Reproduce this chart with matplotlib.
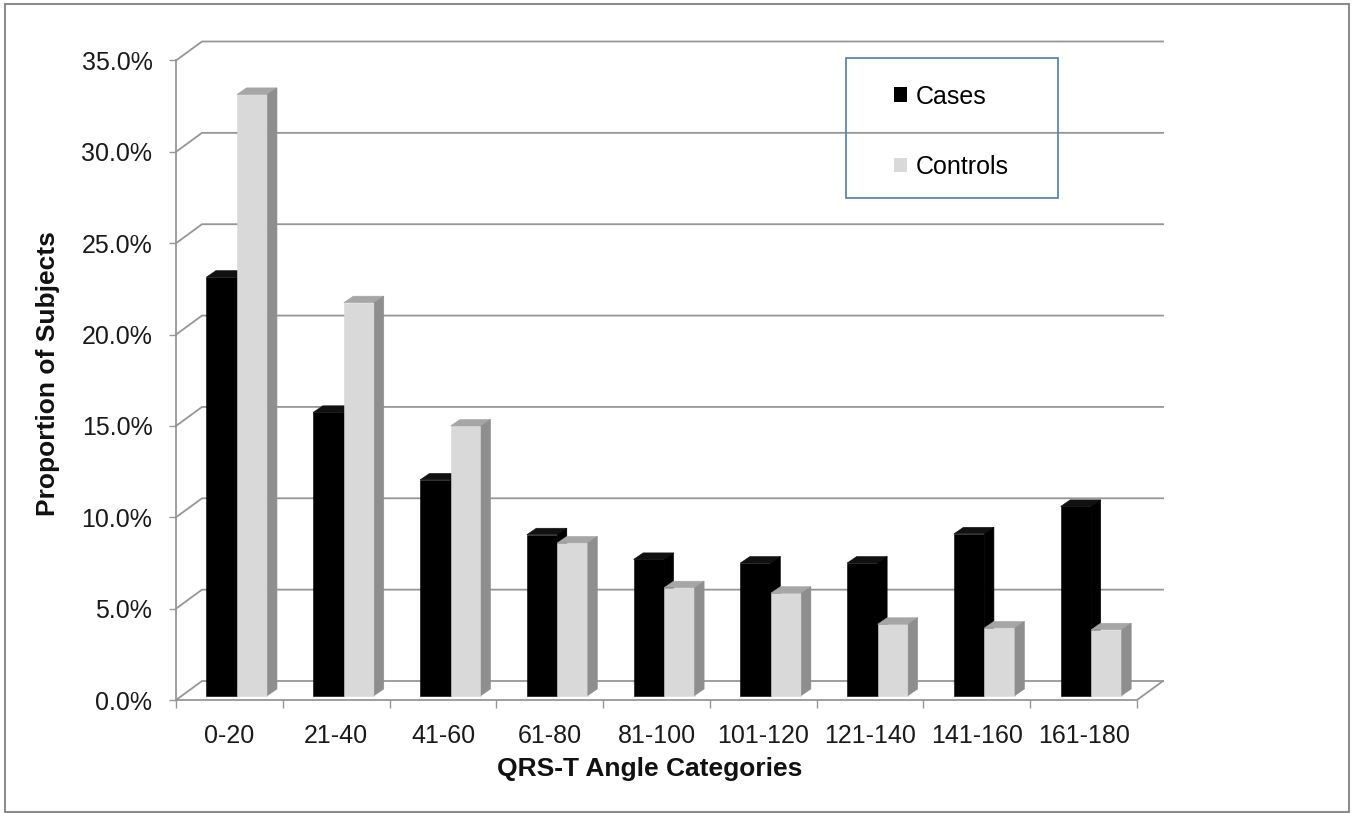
import matplotlib
matplotlib.use("Agg")
import matplotlib.pyplot as plt
from matplotlib.patches import Polygon, Rectangle, Patch

# ---------------- data ----------------
categories = ["0-20", "21-40", "41-60", "61-80", "81-100",
              "101-120", "121-140", "141-160", "161-180"]
cases = [22.9, 15.5, 11.8, 8.8, 7.45, 7.25, 7.25, 8.85, 10.35]
controls = [32.9, 21.5, 14.75, 8.35, 5.9, 5.6, 3.9, 3.7, 3.6]
yticks = [0, 5, 10, 15, 20, 25, 30, 35]
series_names = ["Cases", "Controls"]
x_label = "QRS-T Angle Categories"
y_label = "Proportion of Subjects"

# ---------------- style ----------------
W, H, DPI = 1355, 813, 100
plt.rcParams['font.family'] = ['Liberation Sans', 'DejaVu Sans']

def fx(px):
    return px / W

def fy(py):
    return 1 - py / H

fig = plt.figure(figsize=(W / DPI, H / DPI), dpi=DPI)
fig.patch.set_facecolor('white')

AX_L, AX_R, AX_B, AX_T = 176, 1137, 700, 60.5
ax = fig.add_axes([fx(AX_L), fy(AX_B), (AX_R - AX_L) / W, (AX_B - AX_T) / H])
n = len(categories)
ax.set_xlim(-0.5, n - 0.5)
ax.set_ylim(0, 35)
for s in ax.spines.values():
    s.set_visible(False)
ax.patch.set_alpha(0)

pxx = (AX_R - AX_L) / n          # px per x unit
pxy = (AX_B - AX_T) / 35.0       # px per y unit

WALL_DX = 26 / pxx
WALL_DY = 19 / pxy
BAR_W = 30.5 / pxx
BAR_SHIFT_X = 7.6 / pxx
BAR_SHIFT_Y = 4.5 / pxy
BAR_DX = 9.5 / pxx
BAR_DY = 6.5 / pxy

GRID_C = '#969696'
GRID_LW = 1.3

# back wall gridlines with diagonal connectors
x0w, x1w = -0.5, n - 0.5
for v in yticks:
    ax.plot([x0w, x0w + WALL_DX, x1w + WALL_DX], [v, v + WALL_DY, v + WALL_DY],
            color=GRID_C, lw=GRID_LW, clip_on=False, zorder=1,
            solid_joinstyle='miter')
# front vertical axis
ax.plot([x0w, x0w], [0, 35], color=GRID_C, lw=GRID_LW, clip_on=False, zorder=1)
# floor front edge and right diagonal
ax.plot([x0w, x1w, x1w + WALL_DX], [0, 0, WALL_DY], color=GRID_C, lw=GRID_LW,
        clip_on=False, zorder=1, solid_joinstyle='miter')

# ---------------- bars ----------------
face_cols = [
    ('#000000', '#111111', '#000000'),   # cases: front, top, side
    ('#d9d9d9', '#a6a6a6', '#8e8e8e'),   # controls
]
for j, vals in enumerate([cases, controls]):
    front, topc, side = face_cols[j]
    z = 3 + j
    lefts = [i + BAR_SHIFT_X - BAR_W + j * BAR_W for i in range(n)]
    ax.bar(lefts, vals, width=BAR_W, bottom=BAR_SHIFT_Y, align='edge',
           color=front, edgecolor=front, linewidth=0.4, zorder=z, clip_on=False)
    for x0, v in zip(lefts, vals):
        y0 = BAR_SHIFT_Y
        top = v + BAR_SHIFT_Y
        ax.add_patch(Polygon([(x0, top), (x0 + BAR_W, top),
                              (x0 + BAR_W + BAR_DX, top + BAR_DY),
                              (x0 + BAR_DX, top + BAR_DY)], closed=True,
                             facecolor=topc, edgecolor=topc, lw=0.4,
                             zorder=z, clip_on=False))
        ax.add_patch(Polygon([(x0 + BAR_W, y0), (x0 + BAR_W + BAR_DX, y0 + BAR_DY),
                              (x0 + BAR_W + BAR_DX, top + BAR_DY),
                              (x0 + BAR_W, top)], closed=True,
                             facecolor=side, edgecolor=side, lw=0.4,
                             zorder=z, clip_on=False))

# ---------------- ticks ----------------
TICK_FS = 18
ax.set_yticks(yticks)
ax.set_yticklabels([f"{v:.1f}%" for v in yticks], fontsize=TICK_FS, color='#1a1a1a')
ax.tick_params(axis='y', length=5, width=1, color=GRID_C, pad=12)

ax.set_xticks([i - 0.5 for i in range(n + 1)])
ax.set_xticklabels([])
ax.tick_params(axis='x', which='major', length=6, width=1, color=GRID_C, direction='out')
ax.set_xticks(list(range(n)), minor=True)
ax.set_xticklabels(categories, minor=True, fontsize=TICK_FS, color='#1a1a1a')
ax.tick_params(axis='x', which='minor', length=0, pad=17)

# axis titles
fig.text(fx(650), fy(769), x_label, ha='center', va='center',
         fontsize=19, fontweight='bold', color='#111111')
fig.text(fx(48), fy(374), y_label, ha='center', va='center', rotation=90,
         fontsize=19, fontweight='bold', color='#111111')

# ---------------- legend ----------------
fig.patches.append(Rectangle((fx(846), fy(198)), (1058 - 846) / W, (198 - 58) / H,
                             transform=fig.transFigure, fill=False,
                             edgecolor='#4a7ebb', lw=1.2, zorder=5))
handles = [Patch(facecolor=face_cols[0][0], edgecolor='none'),
           Patch(facecolor=face_cols[1][0], edgecolor='none')]
ax.legend(handles, series_names, loc='upper left',
          bbox_to_anchor=(fx(882), fy(72)), bbox_transform=fig.transFigure,
          frameon=False, borderpad=0, handlelength=0.5, handleheight=0.5,
          handletextpad=0.35, labelspacing=1.85, fontsize=TICK_FS)

# outer border
fig.patches.append(Rectangle((fx(5), fy(812)), (1349 - 5) / W, (812 - 4) / H,
                             transform=fig.transFigure, fill=False,
                             edgecolor='#8c8c8c', lw=1.5, zorder=5))

fig.savefig("out.png", dpi=DPI, facecolor='white')
